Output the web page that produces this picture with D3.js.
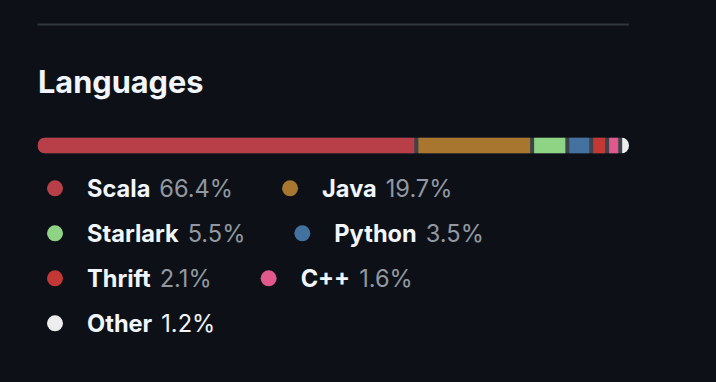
<!DOCTYPE html>
<html><head><meta charset="utf-8">
<script src="https://cdn.jsdelivr.net/npm/d3@7"></script>
<style>
html,body{margin:0;padding:0;background:#0d1117;}
svg{display:block;}
</style></head>
<body>
<script>
const languages = ["Scala","Java","Starlark","Python","Thrift","C++","Other"];
const percents = [66.4,19.7,5.5,3.5,2.1,1.6,1.2];
const colors = ["#b83e48","#a8762f","#8fd385","#4372a0","#c33835","#e0598a","#ededed"];
const title = "Languages";

const W = 716, H = 382;
const left = 37.5, right = 629;
const svg = d3.select("body").append("svg").attr("width", W).attr("height", H);
svg.append("rect").attr("width", W).attr("height", H).attr("fill", "#0d1117");

// divider line
svg.append("line").attr("x1", left).attr("x2", right).attr("y1", 24.5).attr("y2", 24.5)
  .attr("stroke", "#30363d").attr("stroke-width", 2);

// title
svg.append("text").attr("x", 38).attr("y", 93).text(title)
  .attr("fill", "#f0f6fc").attr("font-family", "Inter, 'Noto Sans', sans-serif")
  .attr("font-weight", 700).attr("font-size", 30.7);

// bar
const barY = 137.5, barH = 16, gap = 4;
const data = languages.map((l,i)=>({name:l, pct:percents[i], color:colors[i]}));
const totalW = right - left;
const x = d3.scaleLinear().domain([0, d3.sum(percents)]).range([0, totalW - gap*(data.length-1)]);
let acc = 0;
data.forEach((d,i)=>{ d.x0 = left + x(acc) + gap*i; d.w = x(d.pct); acc += d.pct; });

const defs = svg.append("defs");
defs.append("clipPath").attr("id","barclip").append("rect")
  .attr("x", left).attr("y", barY).attr("width", totalW).attr("height", barH).attr("rx", barH/2);
const bar = svg.append("g").attr("clip-path","url(#barclip)");
bar.append("rect").attr("x", left).attr("y", barY).attr("width", totalW).attr("height", barH).attr("fill", "#3d434b");
bar.selectAll("rect.seg").data(data).join("rect").attr("class","seg")
  .attr("x", d=>d.x0).attr("y", barY).attr("width", d=>d.w).attr("height", barH).attr("fill", d=>d.color);

// legend with wrapping
const fontFam = "Inter, 'Noto Sans', sans-serif";
const fs = 23.6;
const rowY0 = 188.3, rowStep = 45;
const itemGap = 49, dotR = 8, nameOff = 40, pctGap = 9;
const legend = svg.append("g");
let cx = 47, row = 0;
data.forEach((d,i)=>{
  const g = legend.append("g");
  const nameT = g.append("text").text(d.name).attr("fill","#f0f6fc")
    .attr("font-family", fontFam).attr("font-weight", 700).attr("font-size", fs);
  const pctT = g.append("text").text(d.pct.toFixed(1)+"%").attr("fill", d.name==="Other" ? "#f0f6fc" : "#9198a1")
    .attr("font-family", fontFam).attr("font-weight", 400).attr("font-size", fs);
  const nw = nameT.node().getComputedTextLength();
  const pw = pctT.node().getComputedTextLength();
  const itemW = nameOff + nw + pctGap + pw;
  if (cx + itemW + itemGap > right && cx > 47) { row++; cx = 47; }
  const cy = rowY0 + row*rowStep;
  g.append("circle").attr("cx", cx + dotR).attr("cy", cy).attr("r", dotR).attr("fill", d.color);
  nameT.attr("x", cx + nameOff).attr("y", cy + 8.3);
  pctT.attr("x", cx + nameOff + nw + pctGap).attr("y", cy + 8.3);
  cx += itemW + itemGap;
});
</script>
</body></html>
